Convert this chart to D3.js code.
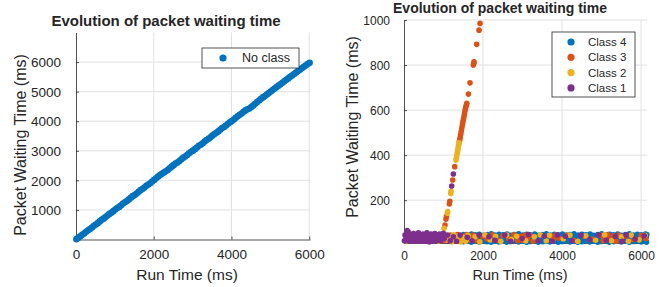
<!DOCTYPE html>
<html>
<head>
<meta charset="utf-8">
<script src="https://cdn.jsdelivr.net/npm/d3@7"></script>
<style>
  body { margin: 0; background: #fff; }
  text { font-family: "Liberation Sans", Arial, Helvetica, sans-serif; fill: #262626; }
</style>
</head>
<body>
<svg id="chart" width="663" height="287"></svg>
<script>
// left panel: single series "No class"
const leftPoints = [[10,12],[60,55],[110,108],[160,162],[210,205],[260,258],[310,312],[360,355],[410,404],[460,461],[510,508],[560,553],[610,612],[660,664],[710,705],[760,757],[810,812],[860,866],[910,903],[960,958],[1010,1011],[1060,1064],[1110,1102],[1160,1158],[1210,1215],[1260,1262],[1310,1303],[1360,1356],[1410,1412],[1460,1466],[1510,1504],[1560,1555],[1610,1613],[1660,1668],[1710,1706],[1760,1757],[1810,1815],[1860,1862],[1910,1904],[1960,1958],[2010,2016],[2060,2072],[2110,2125],[2160,2178],[2210,2220],[2260,2262],[2310,2306],[2360,2352],[2410,2408],[2460,2463],[2510,2515],[2560,2566],[2610,2604],[2660,2655],[2710,2712],[2760,2768],[2810,2806],[2860,2856],[2910,2914],[2960,2965],[3010,3004],[3060,3056],[3110,3113],[3160,3167],[3210,3205],[3260,3254],[3310,3312],[3360,3366],[3410,3404],[3460,3455],[3510,3513],[3560,3564],[3610,3606],[3660,3655],[3710,3712],[3760,3767],[3810,3805],[3860,3856],[3910,3915],[3960,3962],[4010,4006],[4060,4058],[4110,4116],[4160,4170],[4210,4218],[4260,4262],[4310,4318],[4360,4365],[4410,4402],[4460,4432],[4510,4478],[4560,4530],[4610,4590],[4660,4648],[4710,4702],[4760,4756],[4810,4805],[4860,4852],[4910,4903],[4960,4955],[5010,5004],[5060,5052],[5110,5106],[5160,5154],[5210,5203],[5260,5250],[5310,5302],[5360,5352],[5410,5398],[5460,5448],[5510,5500],[5560,5548],[5610,5596],[5660,5646],[5710,5695],[5760,5742],[5810,5790],[5860,5838],[5910,5886],[5960,5932],[6010,5978]];

// right panel: four classes
const class4 = [
  [1505,16],[1598,19],[1702,14],[1796,18],[1903,15],[2001,20],[2097,16],[2204,13],[2299,18],[2402,15],[2505,19],[2596,14],[2703,17],[2801,20],[2898,15],[3004,18],[3102,13],[3197,17],[3303,19],[3398,14],[3506,16],[3601,20],[3695,15],[3802,18],[3904,13],[3999,17],[4096,19],[4203,15],[4301,18],[4398,14],[4502,16],[4604,20],[4697,15],[4801,18],[4903,13],[4998,17],[5102,19],[5196,14],[5304,16],[5401,20],[5497,15],[5603,18],[5702,13],[5798,17],[5905,19],[6002,15],[6098,18],[6140,14],
  [1552,33],[1648,30],[1753,35],[1851,31],[1949,34],[2052,29],[2148,33],[2253,36],[2349,30],[2451,34],[2548,31],[2652,35],[2749,29],[2853,33],[2951,36],[3049,30],[3152,34],[3248,31],[3353,35],[3451,29],[3548,33],[3652,36],[3749,30],[3851,34],[3953,31],[4048,35],[4152,29],[4249,33],[4353,36],[4451,30],[4548,34],[4652,31],[4749,35],[4851,29],[4953,33],[5048,36],[5152,30],[5249,34],[5351,31],[5448,35],[5552,29],[5649,33],[5753,36],[5851,30],[5948,34],[6052,31],[6130,35],
  [1510,48],[1605,45],[1708,50],[1803,46],[1906,49],[2008,44],[2103,48],[2210,51],[2305,45],[2407,49],[2502,46],[2609,50],[2704,44],[2806,48],[2903,51],[3008,45],[3105,49],[3202,46],[3309,50],[3404,44],[3506,48],[3603,51],[3708,45],[3805,49],[3902,46],[4009,50],[4104,44],[4206,48],[4303,51],[4408,45],[4505,49],[4602,46],[4709,50],[4804,44],[4906,48],[5003,51],[5108,45],[5205,49],[5302,46],[5409,50],[5504,44],[5606,48],[5703,51],[5808,45],[5905,49],[6002,46],[6109,50],[6145,47]
];
const class3 = [
  [1401,459],[1412,470],[1424,481],[1436,493],[1448,505],[1460,517],[1472,529],[1484,541],[1496,552],[1508,563],[1520,574],[1532,585],[1544,597],[1556,606],[1568,616],[1580,624],[1590,630],
  [1629,671],[1671,721],[1755,800],[1767,808],[1772,814],[1840,892],[1899,955],[1924,985],
  [1283,349],[1233,290],[1148,183],[1160,195],[1075,128],[1063,116],[1038,90],
  [180,48],[390,44],[900,40],[935,25],[960,45],[1010,20],[1050,38],[1120,22],[1180,45],[1230,18],[1290,35],[1350,48],[1400,20],[1460,40],[1520,25],[1580,47],[1640,30],
  [1750,45],[1850,20],[1980,40],[2100,28],[2230,46],[2380,22],[2500,43],[2650,30],[2780,47],[2880,20],
  [2950,40],[3000,22],[3060,45],[3120,30],[3200,44],[3260,18],[3720,42],[3780,25],[3850,46],[3920,32],
  [4120,45],[4300,22],[4550,40],[4760,28],[4980,44],[5040,20],[5100,38],[5160,47],[5230,26],[5300,42],[5370,18],[5440,45],
  [5600,40],[5800,25],[6000,44],[6120,30]
];
const class2 = [
  [1316,378],[1326,388],[1336,398],[1346,408],[1356,418],[1366,428],[1376,438],[1386,447],[1395,455],
  [1182,230],[1190,240],[1097,142],[1105,150],[1013,75],
  [60,20],[250,45],[420,30],[470,48],[650,22],[720,40],[820,47],[880,18],
  [1030,45],[1080,28],[1150,38],[1210,15],[1260,46],[1330,28],[1380,42],[1440,15],[1500,35],[1560,18],[1620,44],[1700,22],
  [1800,38],[1920,15],[2050,46],[2180,24],[2320,40],[2450,17],[2600,45],[2720,25],[2850,40],[3080,20],[3300,38],[3450,46],
  [3600,20],[3680,44],[4030,28],[4200,45],[4400,18],[4600,42],[4850,22],[5080,46],[5250,20],[5500,38],[5680,18],[5750,45],
  [5950,24],[6100,44]
];
const class1 = [
  [1249,316],[1207,263],[995,53],
  [10,20],[25,45],[45,28],[60,50],[80,65],[95,38],[100,60],[110,55],[125,20],[145,42],[165,25],[185,48],[205,18],[225,35],
  [245,52],[265,22],[285,40],[305,18],[325,48],[345,30],[365,55],[385,20],[405,38],[440,18],[460,35],[480,50],[500,22],
  [520,42],[540,18],[560,35],[580,55],[600,25],[620,45],[640,15],[660,38],[680,50],[700,20],[740,45],[760,25],[780,52],
  [800,18],[840,38],[860,22],[900,50],[920,20],[950,35],
  [1020,30],[1100,45],[1170,20],[1250,38],[1330,18],[1420,45],[1600,35],[1720,20],[1900,45],[2150,38],[2300,22],[2550,45],
  [2700,18],[2990,30],[3150,48],[3400,20],[3550,40],[3750,18],[3880,45],[4080,40],[4250,20],[4480,44],[4700,25],[4920,46],
  [5120,22],[5350,40],[5520,18],[5620,46],[5850,28],[6080,42]
];

const xTicks = [0, 2000, 4000, 6000];
const leftYTicks = [1000, 2000, 3000, 4000, 5000, 6000];
const rightYTicks = [200, 400, 600, 800, 1000];
const titleText = "Evolution of packet waiting time";

const svg = d3.select("#chart");
const ink = "#262626";
const gridCol = "#e1e1e1";

function panel(o) {
  const g = svg.append("g");
  const x = d3.scaleLinear().domain(o.xDomain).range([o.left, o.right]);
  const y = d3.scaleLinear().domain(o.yDomain).range([o.bottom, o.top]);

  // grid
  g.append("g").selectAll("line").data(xTicks.filter(d => d > 0)).enter().append("line")
    .attr("x1", d => x(d)).attr("x2", d => x(d))
    .attr("y1", o.top).attr("y2", o.bottom)
    .attr("stroke", gridCol).attr("stroke-width", 1);
  g.append("g").selectAll("line").data(o.yTicks).enter().append("line")
    .attr("x1", o.left).attr("x2", o.right)
    .attr("y1", d => y(d)).attr("y2", d => y(d))
    .attr("stroke", gridCol).attr("stroke-width", 1);

  // axes with inward ticks
  const ax = g.append("g").attr("transform", "translate(0," + o.bottom + ")")
    .call(d3.axisBottom(x).tickValues(xTicks).tickSize(-3).tickSizeOuter(0).tickFormat(d3.format("d")));
  const ay = g.append("g").attr("transform", "translate(" + o.left + ",0)")
    .call(d3.axisLeft(y).tickValues(o.yTicks).tickSize(-3).tickSizeOuter(0).tickFormat(d3.format("d")));
  [ax, ay].forEach(a => {
    a.select(".domain").attr("stroke", ink).attr("stroke-width", 0.8);
    a.selectAll(".tick line").attr("stroke", ink).attr("stroke-width", 0.8);
    a.selectAll("text").style("font-family", "Liberation Sans, Arial, sans-serif")
      .attr("fill", ink).style("font-size", o.tickFont + "px");
  });
  ax.selectAll("text").attr("y", o.xTickOff).attr("dy", 0);
  ay.selectAll("text").attr("x", -o.yTickOff).attr("dy", "0.35em");

  // clip and points
  const cid = "clip" + o.id;
  svg.append("clipPath").attr("id", cid).append("rect")
    .attr("x", o.left - 4).attr("y", o.top - 4)
    .attr("width", o.right - o.left + 8).attr("height", o.bottom - o.top + 8);
  const pts = g.append("g").attr("clip-path", "url(#" + cid + ")");
  o.series.forEach(s => {
    pts.append("g").selectAll("circle").data(s.data).enter().append("circle")
      .attr("cx", d => x(d[0])).attr("cy", d => y(d[1]))
      .attr("r", o.r).attr("fill", s.color);
  });

  // titles and labels
  g.append("text").attr("x", o.titleX).attr("y", o.titleY).attr("text-anchor", "middle")
    .style("font-size", o.titleFont + "px").style("font-weight", "bold").text(titleText);
  g.append("text").attr("x", o.xLabelX).attr("y", 280).attr("text-anchor", "middle")
    .style("font-size", o.labelFont + "px").text("Run Time (ms)");
  g.append("text").attr("transform", "translate(" + o.yLabelX + "," + o.yLabelY + ") rotate(-90)")
    .attr("text-anchor", "middle").style("font-size", o.yLabelFont + "px").text("Packet Waiting Time (ms)");

  // legend
  const L = o.legend;
  g.append("rect").attr("x", L.x).attr("y", L.y).attr("width", L.w).attr("height", L.h)
    .attr("fill", "#fff").attr("stroke", ink).attr("stroke-width", 0.8);
  L.items.forEach((it, i) => {
    const cy = L.y + L.first + i * L.step;
    g.append("circle").attr("cx", L.x + L.mx).attr("cy", cy).attr("r", 3.6).attr("fill", it.color);
    g.append("text").attr("x", L.x + L.tx).attr("y", cy).attr("dy", "0.35em")
      .style("font-size", L.font + "px").text(it.name);
  });
}

panel({
  id: "L", left: 76, right: 310, top: 32.5, bottom: 239.5,
  xDomain: [0, 6020], yDomain: [0, 7000], yTicks: leftYTicks,
  tickFont: 13.5, xTickOff: 19, yTickOff: 15, r: 3.3,
  series: [{ data: leftPoints, color: "#0072BD" }],
  titleX: 166, titleY: 26, titleFont: 15,
  xLabelX: 187, labelFont: 15.5, yLabelX: 26, yLabelY: 145, yLabelFont: 16,
  legend: { x: 202, y: 48, w: 97, h: 20, first: 10, step: 15, mx: 21, tx: 40, font: 12.5,
            items: [{ name: "No class", color: "#0072BD" }] }
});

panel({
  id: "R", left: 404, right: 647, top: 20, bottom: 243,
  xDomain: [0, 6150], yDomain: [10, 1000], yTicks: rightYTicks,
  tickFont: 12, xTickOff: 17, yTickOff: 14, r: 2.8,
  series: [
    { data: class4, color: "#0072BD" },
    { data: class3, color: "#D95319" },
    { data: class2, color: "#EDB120" },
    { data: class1, color: "#7E2F8E" }
  ],
  titleX: 500, titleY: 13, titleFont: 14,
  xLabelX: 520, labelFont: 14.5, yLabelX: 358, yLabelY: 127, yLabelFont: 16,
  legend: { x: 552, y: 32, w: 83, h: 65, first: 10, step: 15.3, mx: 19, tx: 36, font: 11.5,
            items: [
              { name: "Class 4", color: "#0072BD" },
              { name: "Class 3", color: "#D95319" },
              { name: "Class 2", color: "#EDB120" },
              { name: "Class 1", color: "#7E2F8E" }
            ] }
});
</script>
</body>
</html>
